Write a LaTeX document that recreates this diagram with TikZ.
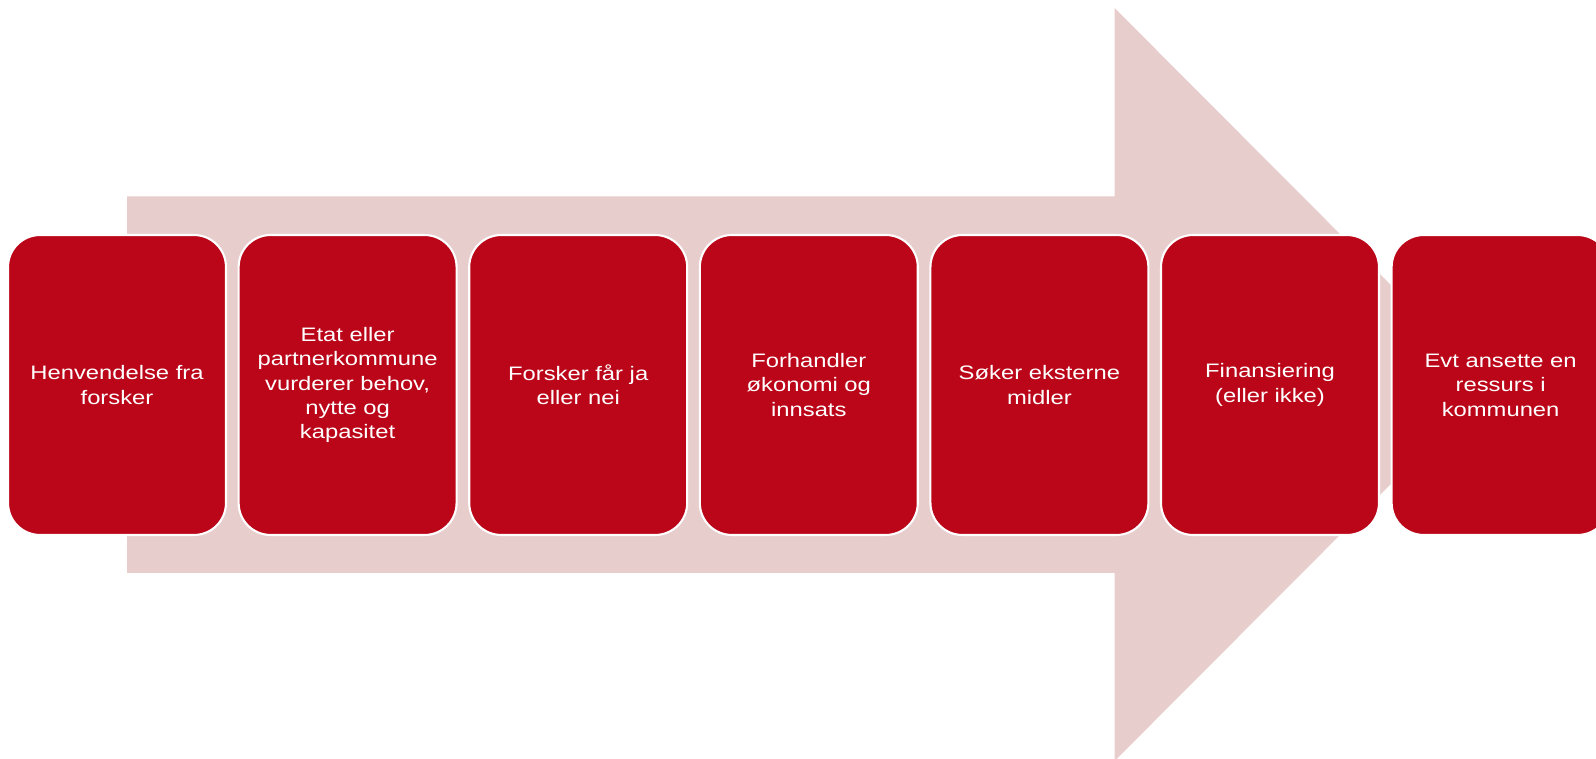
\documentclass[tikz,border=0pt]{standalone}
\usepackage{fontspec}
\setmainfont{Liberation Sans}[FakeStretch=1.22]
\definecolor{boksrod}{RGB}{186,6,24}
\definecolor{pilrosa}{RGB}{232,205,205}

\begin{document}
\begin{tikzpicture}[x=0.02cm,y=-0.02cm,
	boks/.style={draw=white, line width=1.2pt, fill=boksrod, rounded corners=0.64cm,
		minimum width=4.36cm, minimum height=6cm, inner sep=0pt, text=white,
		align=center, font=\fontsize{11.1}{13.9}\selectfont}]
	\useasboundingbox (0,0) rectangle (1596,759);
	\clip (0,0) rectangle (1596,759);

	% Pil
	\fill [pilrosa] (127,196.5) -- (1114.6,196.5) -- (1114.6,8) -- (1490,384.5) -- (1114.6,761) -- (1114.6,573) -- (127,573) -- cycle;

	% Bokser
	\node [boks] (henv) at (117,385) {Henvendelse fra\\forsker};
	\node [boks] (etat) at (347.6,385) {Etat eller\\partnerkommune\\vurderer behov,\\nytte og\\kapasitet};
	\node [boks] (svar) at (578.2,385) {Forsker får ja\\eller nei};
	\node [boks] (forh) at (808.8,385) {Forhandler\\økonomi og\\innsats};
	\node [boks] (midl) at (1039.4,385) {Søker eksterne\\midler};
	\node [boks] (fina) at (1270,385) {Finansiering\\(eller ikke)};
	\node [boks] (anse) at (1500.6,385) {Evt ansette en\\ressurs i\\kommunen};
\end{tikzpicture}
\end{document}
